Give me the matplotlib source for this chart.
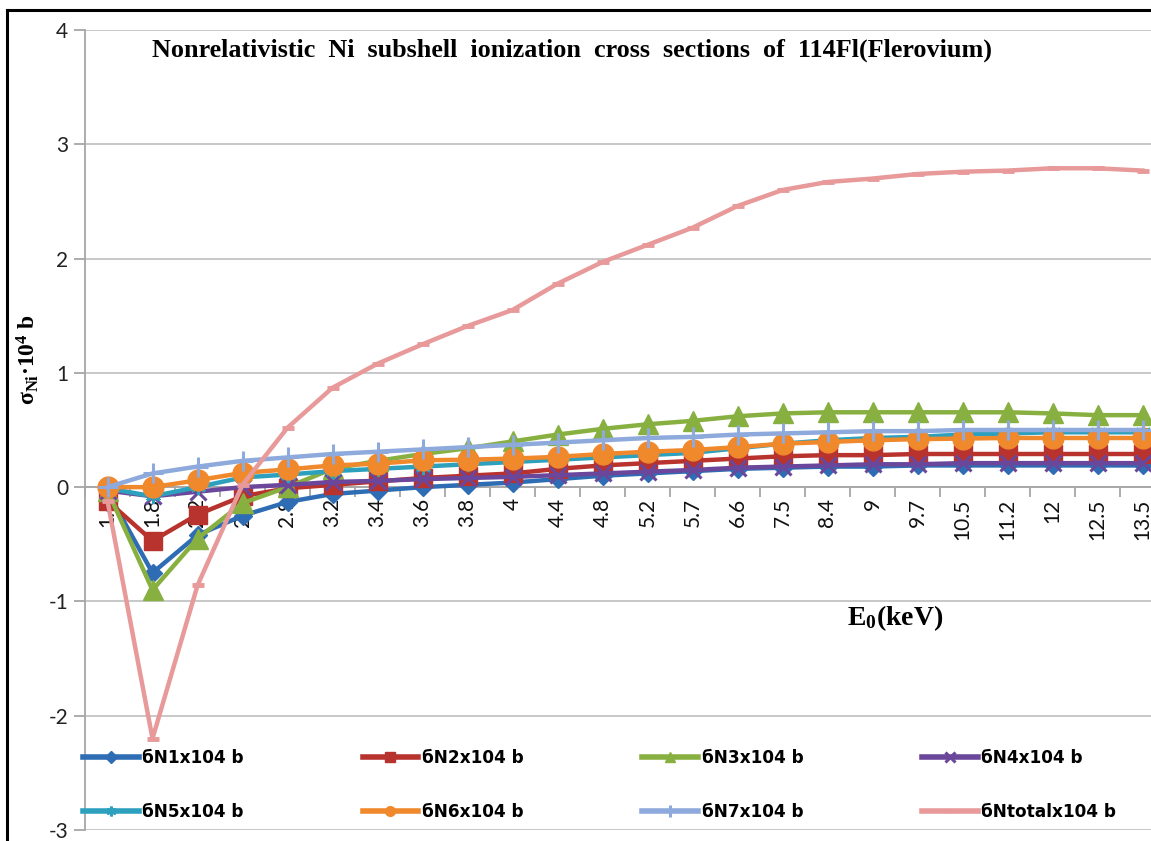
import matplotlib
matplotlib.use("Agg")
import matplotlib.pyplot as plt
from matplotlib.lines import Line2D
from matplotlib.ticker import FixedLocator, NullFormatter

# ---------------- data ----------------
categories = ['1.4', '1.8', '2.2', '2.6', '2.9', '3.2', '3.4', '3.6', '3.8', '4',
              '4.4', '4.8', '5.2', '5.7', '6.6', '7.5', '8.4', '9', '9.7', '10.5',
              '11.2', '12', '12.5', '13.5']

sN1 = [-0.04, -0.75, -0.42, -0.25, -0.13, -0.06, -0.03, 0.00, 0.02, 0.04, 0.07, 0.10,
       0.12, 0.14, 0.16, 0.17, 0.18, 0.18, 0.19, 0.19, 0.19, 0.19, 0.19, 0.19]
sN2 = [-0.12, -0.47, -0.24, -0.08, -0.01, 0.02, 0.05, 0.08, 0.10, 0.12, 0.16, 0.19,
       0.21, 0.23, 0.25, 0.27, 0.28, 0.28, 0.29, 0.29, 0.29, 0.29, 0.29, 0.29]
sN3 = [-0.03, -0.90, -0.45, -0.14, 0.00, 0.16, 0.23, 0.29, 0.34, 0.40, 0.46, 0.51,
       0.55, 0.58, 0.62, 0.645, 0.655, 0.655, 0.655, 0.655, 0.655, 0.645, 0.63, 0.63]
sN4 = [-0.03, -0.08, -0.04, 0.00, 0.02, 0.045, 0.055, 0.07, 0.08, 0.09, 0.105, 0.12,
       0.135, 0.15, 0.17, 0.18, 0.19, 0.20, 0.20, 0.21, 0.21, 0.21, 0.21, 0.21]
sN5 = [-0.01, -0.08, 0.00, 0.085, 0.11, 0.14, 0.16, 0.18, 0.20, 0.22, 0.24, 0.26,
       0.28, 0.30, 0.34, 0.38, 0.41, 0.43, 0.44, 0.46, 0.47, 0.48, 0.48, 0.48]
sN6 = [0.00, 0.00, 0.06, 0.125, 0.155, 0.19, 0.205, 0.235, 0.24, 0.25, 0.265, 0.29,
       0.31, 0.325, 0.35, 0.38, 0.395, 0.41, 0.42, 0.425, 0.43, 0.43, 0.43, 0.43]
sN7 = [0.00, 0.12, 0.18, 0.23, 0.26, 0.29, 0.31, 0.33, 0.35, 0.37, 0.39, 0.41,
       0.43, 0.44, 0.46, 0.47, 0.48, 0.49, 0.49, 0.50, 0.50, 0.50, 0.50, 0.50]
sNtotal = [-0.12, -2.20, -0.86, 0.02, 0.52, 0.87, 1.08, 1.25, 1.41, 1.55, 1.78, 1.97,
           2.12, 2.27, 2.46, 2.60, 2.67, 2.70, 2.74, 2.76, 2.77, 2.79, 2.79, 2.77]

series_labels = ['бN1x104 b', 'бN2x104 b', 'бN3x104 b', 'бN4x104 b',
                 'бN5x104 b', 'бN6x104 b', 'бN7x104 b', 'бNtotalx104 b']
y_ticks = [-3, -2, -1, 0, 1, 2, 3, 4]

# ---------------- style ----------------
series = [sN1, sN2, sN3, sN4, sN5, sN6, sN7, sNtotal]
colors = ['#2E6DB4', '#B8322E', '#88B040', '#6B479B', '#2DA0BE', '#F0882C', '#8EAADC', '#E8999A']
markers = ['D', 's', '^', 'x', (6, 2, 0), 'o', '+', '_']
msizes = [9, 13, 14, 12, 11, 15, 15, 9]
mews = [1, 1, 1, 2.2, 2.0, 1, 2.2, 3.5]
leg_ms = [6, 7, 7, 7, 7, 7, 9, 6]

plt.rcParams['mathtext.fontset'] = 'custom'
plt.rcParams['mathtext.rm'] = 'Liberation Serif:bold'
plt.rcParams['mathtext.it'] = 'Liberation Serif:italic:bold'
plt.rcParams['mathtext.bf'] = 'Liberation Serif:bold'

W, H = 1151, 841
fig = plt.figure(figsize=(W / 100, H / 100), dpi=100)
fig.patch.set_facecolor('white')

ax_left, ax_right, ax_top, ax_bottom = 85, 1165, 30, 830
ax = fig.add_axes([ax_left / W, 1 - ax_bottom / H, (ax_right - ax_left) / W, (ax_bottom - ax_top) / H])

x = list(range(len(categories)))
for vals, c, m, ms, mew in zip(series, colors, markers, msizes, mews):
    ax.plot(x, vals, color=c, lw=3.2, marker=m, ms=ms, mec=c, mfc=c, mew=mew,
            solid_joinstyle='round', clip_on=False, zorder=3)

ax.set_xlim(-0.5, len(categories) - 0.5)
ax.set_ylim(-3, 4)
ax.set_yticks(y_ticks)
ax.set_yticklabels([str(v) for v in y_ticks], fontsize=15, family='Lato', color='#222222')
ax.grid(axis='y', color='#C4C4C4', lw=1.3, zorder=0)
ax.set_axisbelow(True)

for s in ['top', 'right']:
    ax.spines[s].set_visible(False)
ax.spines['left'].set_color('#A6A6A6')
ax.spines['left'].set_linewidth(1.3)
ax.spines['bottom'].set_position(('data', 0))
ax.spines['bottom'].set_color('#A6A6A6')
ax.spines['bottom'].set_linewidth(1.3)
ax.tick_params(axis='y', direction='out', length=8, width=1.3, color='#A6A6A6', pad=4)

ax.set_xticks(x)
ax.set_xticklabels(categories, rotation=90, fontsize=15, family='Lato', color='#111111', va='top')
ax.tick_params(axis='x', which='major', length=0, pad=8)
ax.xaxis.set_minor_locator(FixedLocator([i + 0.5 for i in range(-1, len(categories))]))
ax.xaxis.set_minor_formatter(NullFormatter())
ax.tick_params(axis='x', which='minor', direction='out', length=7, width=1.3, color='#A6A6A6')

# legend (2 rows x 4 columns, filled row-wise)
handles = [Line2D([], [], color=c, lw=4, marker=m, ms=lm, mec=c, mfc=c, mew=min(mw, 2.5))
           for c, m, lm, mw in zip(colors, markers, leg_ms, mews)]
order = [0, 4, 1, 5, 2, 6, 3, 7]
leg = ax.legend([handles[i] for i in order], [series_labels[i] for i in order], ncol=4,
                loc='upper left', bbox_to_anchor=(83 / W, 1 - 749 / H), bbox_transform=fig.transFigure,
                frameon=False, handlelength=3.3, handletextpad=0.2, columnspacing=7.0,
                labelspacing=2.1, borderaxespad=0, borderpad=0,
                prop={'family': 'DejaVu Sans', 'weight': 'bold', 'size': 12.2})

# titles / labels
fig.text(152 / W, 1 - 50 / H,
         'Nonrelativistic  Ni  subshell  ionization  cross  sections  of  114Fl(Flerovium)',
         ha='left', va='center', fontsize=18.8, family='Liberation Serif', weight='bold')
fig.text(895 / W, 1 - 618 / H, r'E$_{0}$(keV)', ha='center', va='center',
         fontsize=20, family='Liberation Serif', weight='bold')
fig.text(28 / W, 1 - 360 / H, r'σ$_{\mathrm{Ni}}$·10$^{\mathrm{4}}$ b', ha='center', va='center',
         rotation=90, fontsize=17, family='Liberation Serif', weight='bold')

# outer border (top and left)
fig.add_artist(Line2D([7 / W, 7 / W], [0, 1 - 10 / H], transform=fig.transFigure, color='black', lw=2.2))
fig.add_artist(Line2D([7 / W, 1], [1 - 10 / H, 1 - 10 / H], transform=fig.transFigure, color='black', lw=2.2))

fig.savefig('out.png', dpi=100)
